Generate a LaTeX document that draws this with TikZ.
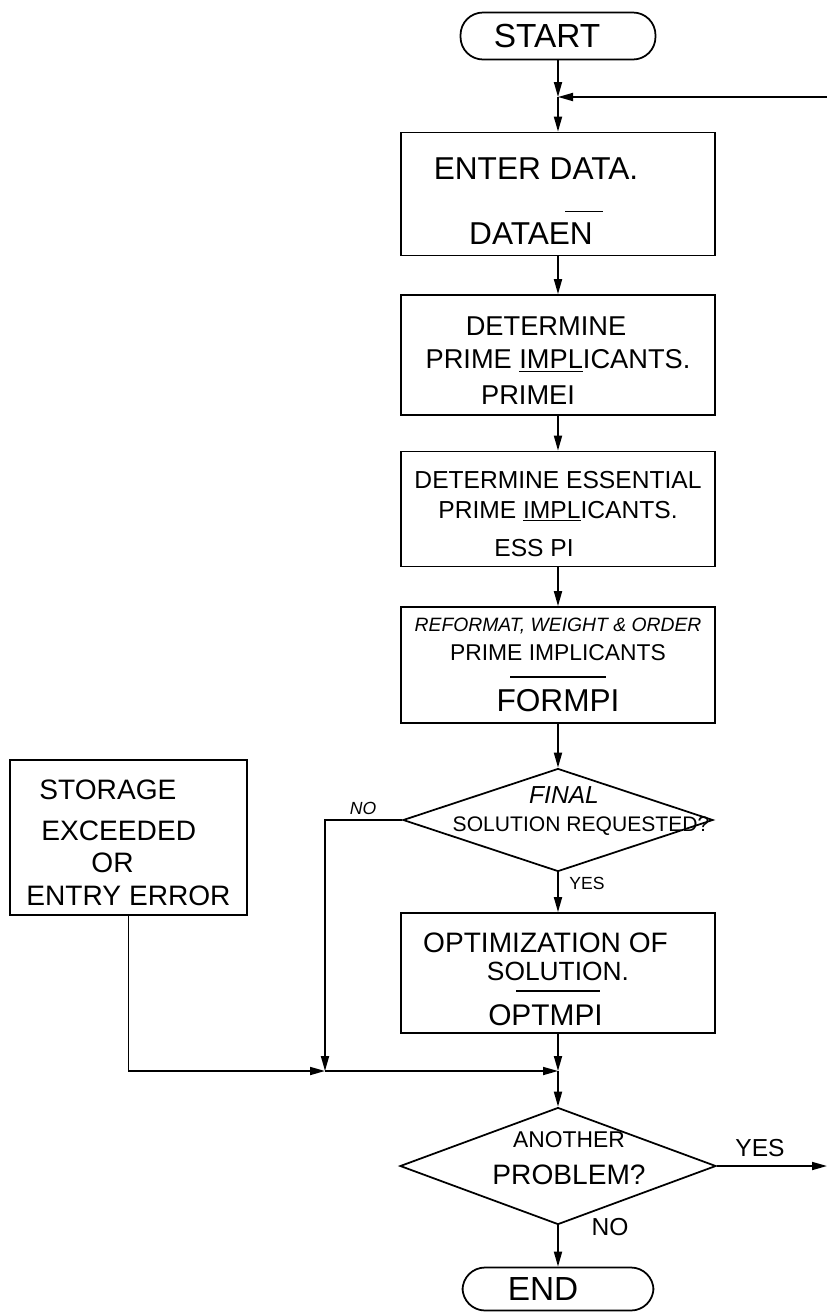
\documentclass[tikz,border=0pt]{standalone}
\usepackage{fontspec}
\setmainfont{Liberation Sans}
\usetikzlibrary{shapes.geometric,arrows.meta}
\newcommand{\fsz}[2]{\fontsize{#1}{#2}\selectfont}
\newcommand{\lift}[1]{\rule{0pt}{#1}}
\begin{document}
\begin{tikzpicture}
	[x=0.02cm, y=-0.02cm,
	>={Triangle[length=0.3cm,width=0.16cm]},
	line width=1pt,
	every node/.style={inner sep=1pt},
	term/.style={draw,rounded corners=0.45cm,minimum width=3.9cm,minimum height=0.94cm,font=\fsz{19}{22}},
	proc/.style={draw,align=center,minimum width=6.28cm,minimum height=2.4cm},
	test/.style={draw,diamond,minimum width=6.2cm,minimum height=2.06cm},
	word/.style={align=center}]
	\useasboundingbox (0,0) rectangle (827,1312);
	% main column
	\node[term] (start) at (558,36) {START\hspace*{0.44cm}};
	\coordinate (join) at (558,97);
	\coordinate (back) at (827,97);
	\node[proc,minimum height=2.46cm,font=\fsz{18}{18.5}] (dataen) at (558,194)
		{\lift{21pt}ENTER DATA.\hspace*{0.88cm}\\ \hspace*{1.04cm}\rule{0.76cm}{0.8pt}\\ DATAEN\hspace*{1.08cm}};
	\node[proc,font=\fsz{15.5}{19}] (primei) at (558,355)
		{\lift{16.8pt}DETERMINE\hspace*{0.48cm}\\ PRIME \underline{IMPL}ICANTS.\hspace*{0.48cm}\\[1pt] PRIMEI\hspace*{1.2cm}};
	\node[proc,minimum height=2.3cm,font=\fsz{14}{17}] (esspi) at (558,509)
		{\lift{15.2pt}DETERMINE ESSENTIAL\\ PRIME \underline{IMPL}ICANTS.\\[4.5pt] ESS PI\hspace*{0.96cm}};
	\node[proc,minimum height=2.32cm,font=\fsz{13}{16.5}] (formpi) at (558,665)
		{{\fsz{11}{13}\itshape REFORMAT, WEIGHT \& ORDER}\\ PRIME IMPLICANTS\\[-6.8pt] \rule{1.92cm}{0.8pt}\\[2.8pt] {\fsz{18}{20}FORMPI}};
	\node[test] (final) at (558,820) {};
	\node[word,font=\fsz{12}{16}] (finaltxt) at (581,811)
		{{\fsz{14}{15}\itshape FINAL}\hspace*{0.68cm}\\ SOLUTION REQUESTED?};
	\node[proc,font=\fsz{16}{16}] (optmpi) at (558,973)
		{\lift{18.3pt}OPTIMIZATION OF\hspace*{0.5cm}\\ {\fsz{15}{16}SOLUTION.}\hspace*{0.5cm}\\[-9.7pt] \rule{1.68cm}{0.8pt}\\[3.3pt] {\fsz{17}{18}OPTMPI}\hspace*{0.5cm}};
	% error box
	\node[draw,align=left,minimum width=4.74cm,minimum height=3.1cm,font=\fsz{16}{18.5}] (storage) at (128.5,837.5)
		{\lift{17.2pt}\hspace*{0.26cm}STORAGE\\[4.3pt] \hspace*{0.3cm}EXCEEDED\\ \hspace*{1.3cm}OR\\ ENTRY ERROR};
	\coordinate (nojoin) at (325,1071);
	\coordinate (merge) at (558,1071);
	\node[test,minimum width=6.32cm,minimum height=2.34cm] (another) at (558,1166) {};
	\node[word,font=\fsz{16}{21}] (anothertxt) at (569,1158)
		{{\fsz{13}{15}ANOTHER}\\ PROBLEM?};
	\coordinate (exit) at (827,1166);
	\node[term,minimum width=3.82cm,minimum height=0.86cm] (end) at (558,1289) {END\hspace*{0.6cm}};
	% branch labels
	\node[font=\fsz{10}{12}\itshape] (nolbl) at (363,808) {NO};
	\node[font=\fsz{10}{12}] (yeslbl) at (587,883) {YES};
	\node[font=\fsz{14}{16}] (yesexit) at (760,1148) {YES};
	\node[font=\fsz{14}{16}] (noend) at (610,1227) {NO};
	% connectors
	\draw[->] (start) -- (join);
	\draw[->] (back) -- (join);
	\draw[->] (join) -- (dataen);
	\draw[->] (dataen) -- (primei);
	\draw[->] (primei) -- (esspi);
	\draw[->] (esspi) -- (formpi);
	\draw[->] (formpi) -- (final);
	\draw[->] (final) -- (optmpi);
	\draw[->] (final.west) -- (final.west -| nojoin) -- (nojoin);
	\draw[->] (storage) |- (nojoin);
	\draw[->] (nojoin) -- (merge);
	\draw[->] (optmpi) -- (merge);
	\draw[->] (merge) -- (another);
	\draw[->] (another.east) -- (exit);
	\draw[->] (another) -- (end);
\end{tikzpicture}
\end{document}
